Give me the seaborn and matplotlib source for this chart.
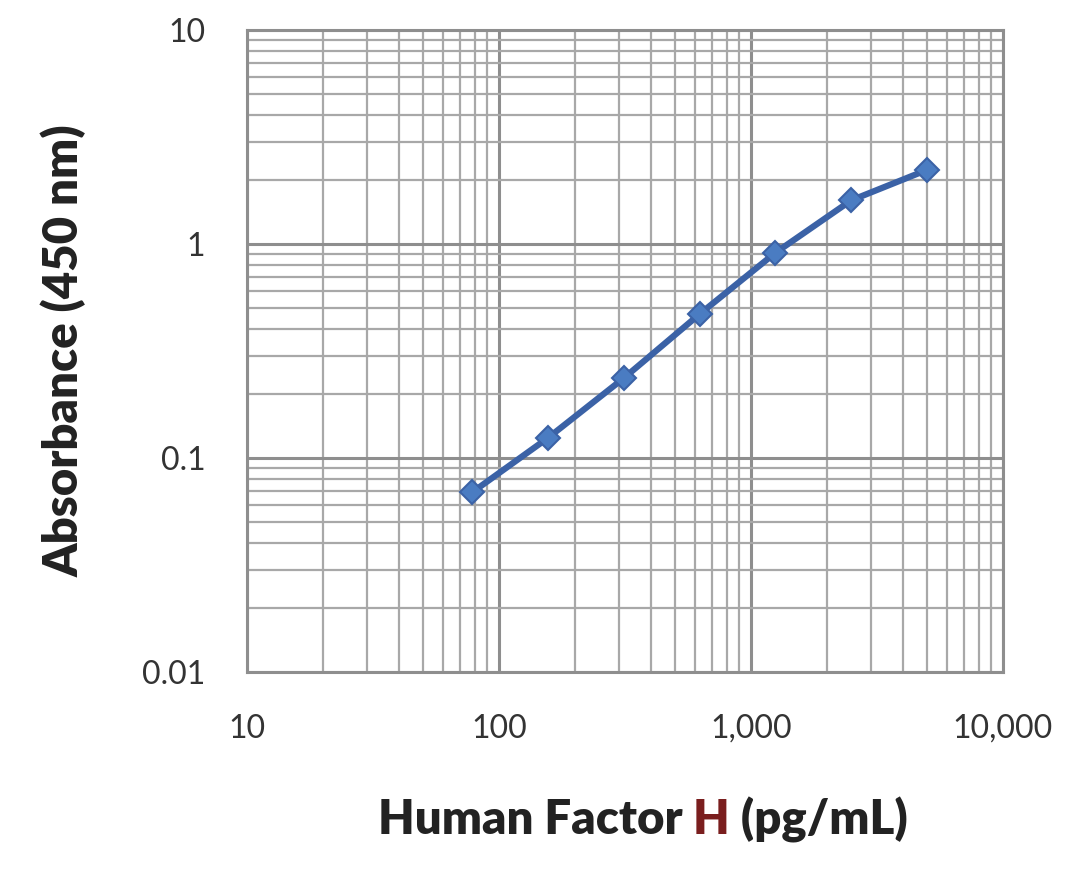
import numpy as np
import matplotlib
matplotlib.use('Agg')
import matplotlib.pyplot as plt
import matplotlib.ticker as mticker
import pandas as pd
import seaborn as sns

# standard curve values
concentration = [78.1, 156.25, 312.5, 625, 1250, 2500, 5000]
absorbance = [0.069, 0.124, 0.236, 0.47, 0.91, 1.6, 2.22]
x_ticks = [10, 100, 1000, 10000]
x_tick_labels = ['10', '100', '1,000', '10,000']
y_ticks = [0.01, 0.1, 1, 10]
y_tick_labels = ['0.01', '0.1', '1', '10']

sns.set_style('white')
plt.rcParams['font.family'] = ['Lato', 'DejaVu Sans']

df = pd.DataFrame({'conc': concentration, 'abs': absorbance})

fig = plt.figure(figsize=(10.8, 8.69), dpi=100)
ax = fig.add_axes([0.2287, 0.2267, 0.7, 0.7388])

ax.set_xscale('log')
ax.set_yscale('log')
ax.set_xlim(10, 10000)
ax.set_ylim(0.01, 10)

sns.lineplot(data=df, x='conc', y='abs', ax=ax, color='#3B62A6', lw=4.5,
             marker='D', markersize=12, markerfacecolor='#4A7CC2',
             markeredgecolor='#3B62A6', markeredgewidth=1.5, zorder=5)

ax.grid(which='major', color='#8E8E8E', lw=2.2)
ax.grid(which='minor', color='#A8A8A8', lw=1.6)
ax.xaxis.set_minor_locator(mticker.LogLocator(base=10, subs=np.arange(2, 10)))
ax.yaxis.set_minor_locator(mticker.LogLocator(base=10, subs=np.arange(2, 10)))
ax.xaxis.set_minor_formatter(mticker.NullFormatter())
ax.yaxis.set_minor_formatter(mticker.NullFormatter())

ax.set_xticks(x_ticks)
ax.set_xticklabels(x_tick_labels)
ax.set_yticks(y_ticks)
ax.set_yticklabels(y_tick_labels)
ax.tick_params(which='major', direction='out', length=8, width=2, color='#8E8E8E',
               labelsize=23, labelcolor='#333333', pad=22)
ax.tick_params(which='minor', length=0)

for s in ax.spines.values():
    s.set_color('#8E8E8E')
    s.set_linewidth(2.2)

ax.set_xlabel('')
ax.set_ylabel('Absorbance (450 nm)', fontsize=34, fontweight='heavy',
              color='#222222', labelpad=40)

# x label with a dark red "H"
parts = [('Human Factor ', '#222222'), ('H', '#7A1E1E'), (' (pg/mL)', '#222222')]
fig.canvas.draw()
renderer = fig.canvas.get_renderer()
texts = []
widths = []
for s, c in parts:
    t = fig.text(0, 0.04, s, fontsize=34, fontweight='heavy', color=c, va='baseline')
    w = t.get_window_extent(renderer).width / fig.bbox.width
    texts.append(t)
    widths.append(w)
x0 = 0.595 - sum(widths) / 2
for t, w in zip(texts, widths):
    t.set_x(x0)
    x0 += w

fig.savefig('out.png', dpi=100, facecolor='white')
